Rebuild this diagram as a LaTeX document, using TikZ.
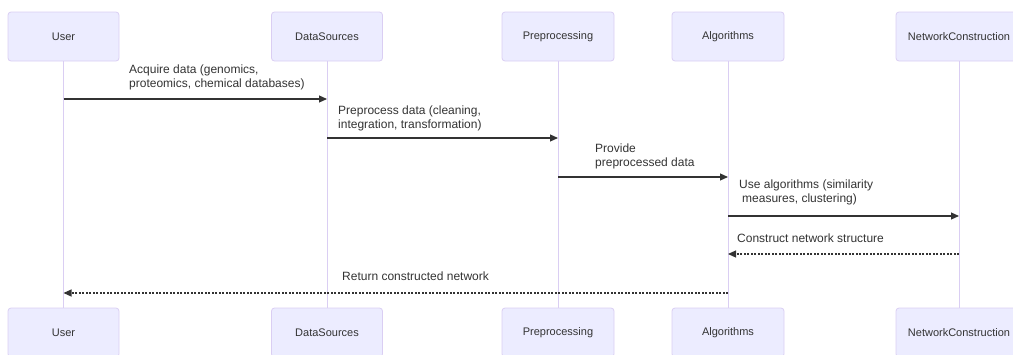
\documentclass[tikz,border=0pt]{standalone}
\usepackage{fontspec}
\setmainfont{Liberation Sans}
\usetikzlibrary{arrows.meta}
\definecolor{actfill}{HTML}{ECECFF}
\definecolor{actline}{RGB}{218,206,243}
\definecolor{ink}{HTML}{333333}
\tikzset{
  actor/.style={draw=actline, fill=actfill, line width=0.8pt, rounded corners=3pt,
    minimum height=49pt, inner sep=0pt, text=ink, font=\fontsize{11}{13}\selectfont},
  life/.style={draw=actline, line width=1pt},
  msg/.style={draw=ink, line width=1.1pt, -{Triangle[length=8pt,width=7pt]}},
  ret/.style={msg, dash pattern=on 2pt off 1.5pt},
  lbl/.style={inner sep=0pt, align=left, text=ink, font=\fontsize{12}{14}\selectfont}
}
\begin{document}
\begin{tikzpicture}[x=1pt,y=-1pt]
\useasboundingbox (0,0) rectangle (1013,354);
% actors top
\node[actor, minimum width=111pt] (uT) at (63.5,36.5) {User};
\node[actor, minimum width=111pt] (dT) at (327,36.5) {DataSources};
\node[actor, minimum width=112pt] (pT) at (558,36.5) {Preprocessing};
\node[actor, minimum width=112pt] (aT) at (728,36.5) {Algorithms};
\node[actor, minimum width=126pt] (nT) at (959,36.5) {NetworkConstruction};
% actors bottom
\node[actor, minimum width=111pt] (uB) at (63.5,332.5) {User};
\node[actor, minimum width=111pt] (dB) at (327,332.5) {DataSources};
\node[actor, minimum width=112pt] (pB) at (558,332.5) {Preprocessing};
\node[actor, minimum width=112pt] (aB) at (728,332.5) {Algorithms};
\node[actor, minimum width=126pt] (nB) at (959,332.5) {NetworkConstruction};
% lifelines
\draw[life] (uT.south) -- (uB.north);
\draw[life] (dT.south) -- (dB.north);
\draw[life] (pT.south) -- (pB.north);
\draw[life] (aT.south) -- (aB.north);
\draw[life] (nT.south) -- (nB.north);
% messages
\draw[msg] (uT.south |- 0,99) -- (dT.south |- 0,99);
\node[lbl, anchor=base west] (l1) at (129,87) {Acquire data (genomics,\\proteomics, chemical databases)};
\draw[msg] (dT.south |- 0,138) -- (pT.south |- 0,138);
\node[lbl, anchor=base west] (l2) at (338,128) {Preprocess data (cleaning,\\integration, transformation)};
\draw[msg] (pT.south |- 0,177) -- (aT.south |- 0,177);
\node[lbl, anchor=base west] (l3) at (595,166) {Provide\\preprocessed data};
\draw[msg] (aT.south |- 0,216) -- (nT.south |- 0,216);
\node[lbl, anchor=base west] (l4) at (739,202) {Use algorithms (similarity\\\hspace*{3pt}measures, clustering)};
\draw[ret] (nT.south |- 0,254) -- (aT.south |- 0,254);
\node[lbl, anchor=base west] (l5) at (737,242) {Construct network structure};
\draw[ret] (aT.south |- 0,293) -- (uT.south |- 0,293);
\node[lbl, anchor=base west] (l6) at (342,280) {Return constructed network};
\end{tikzpicture}
\end{document}
